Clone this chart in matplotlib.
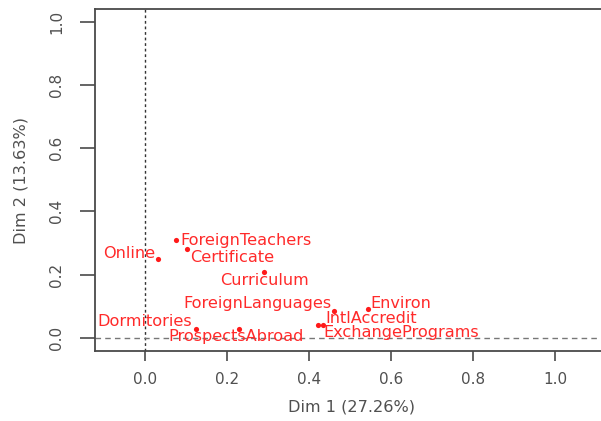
import matplotlib
matplotlib.use("Agg")
import matplotlib.pyplot as plt

# ---- data ----
labels = ["Online", "ForeignTeachers", "Certificate", "Curriculum", "Dormitories",
          "ProspectsAbroad", "ForeignLanguages", "Environ", "IntlAccredit", "ExchangePrograms"]
dim1 = [0.032, 0.076, 0.103, 0.289, 0.124, 0.228, 0.461, 0.544, 0.434, 0.422]
dim2 = [0.249, 0.309, 0.281, 0.209, 0.028, 0.027, 0.086, 0.092, 0.040, 0.040]
xticks = [0.0, 0.2, 0.4, 0.6, 0.8, 1.0]
yticks = [0.0, 0.2, 0.4, 0.6, 0.8, 1.0]
xlabel = "Dim 1 (27.26%)"
ylabel = "Dim 2 (13.63%)"

# label placement (offset in pixels, horizontal alignment)
label_offsets = [(-3, 6, "right"), (4, 0, "left"), (3, -9, "left"), (1, -9, "center"),
                 (-4, 7.5, "right"), (-2, -7, "center"), (-3, 7.5, "right"), (2, 5.5, "left"),
                 (2, 7, "left"), (5, -7, "left")]

plt.rcParams["font.family"] = ["DejaVu Sans"]
W, H = 601, 421
fig = plt.figure(figsize=(W / 100, H / 100), dpi=100)
left, right, top, bottom = 95, 607, 9, 351
ax = fig.add_axes([left / W, 1 - bottom / H, (right - left) / W, (bottom - top) / H])
ax.set_xlim(-0.122, -0.122 + (right - left) / 410)
ax.set_ylim(-0.042, 1.04)

axcol = "#4a4a4a"
ax.axvline(0, color="#333333", lw=1.0, ls=(0, (2, 2)), zorder=1)
ax.axhline(0, color="#777777", lw=1.0, ls=(0, (4, 3)), zorder=1)

ax.scatter(dim1, dim2, s=14, color="#ff1a1a", zorder=3, linewidths=0)
for lab, x, y, (dx, dy, ha) in zip(labels, dim1, dim2, label_offsets):
    ax.annotate(lab, (x, y), xytext=(dx, dy), textcoords="offset pixels",
                ha=ha, va="center", color="#ff2a2a", fontsize=11.6, zorder=4)

for s in ax.spines.values():
    s.set_color(axcol)
    s.set_linewidth(1.3)
ax.set_xticks(xticks)
ax.set_yticks(yticks)
ax.set_xticklabels([f"{t:.1f}" for t in xticks])
ax.set_yticklabels([f"{t:.1f}" for t in yticks], rotation=90, va="center")
ax.tick_params(axis="x", length=7, width=1.2, color=axcol, labelcolor="#505050",
               labelsize=11, pad=8)
ax.tick_params(axis="y", length=11, width=1.2, color=axcol, labelcolor="#505050",
               labelsize=11, pad=11)
ax.set_xlabel(xlabel, fontsize=11.6, color="#505050", labelpad=9)
ax.set_ylabel(ylabel, fontsize=11.6, color="#505050", labelpad=15)

fig.savefig("out.png", dpi=100)
